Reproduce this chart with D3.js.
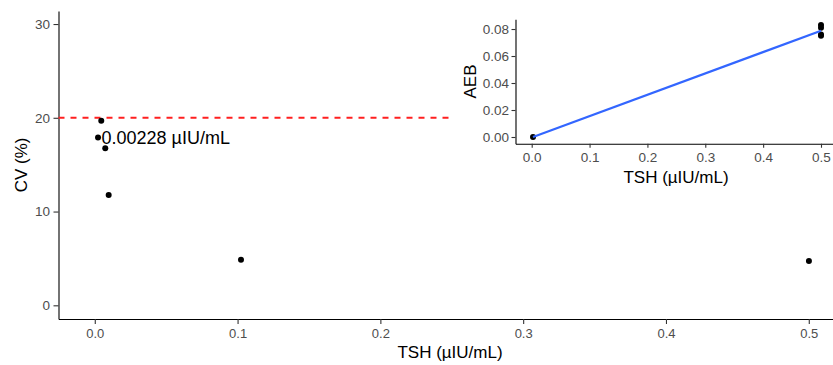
<!DOCTYPE html>
<html>
<head>
<meta charset="utf-8">
<script src="https://cdn.jsdelivr.net/npm/d3@7"></script>
<style>
  body { margin: 0; background: #fff; }
  svg { display: block; font-family: "Liberation Sans", Arial, sans-serif; }
  .axis .domain { stroke: #000; stroke-width: 1.1px; }
  .axis .tick line { stroke: #333; stroke-width: 1.1px; }
  .axis .tick text { fill: #4d4d4d; }
</style>
</head>
<body>
<div id="chart"></div>
<script>
// main panel: CV vs TSH
const mainTsh = [0.00455, 0.00228, 0.00735, 0.00973, 0.1024, 0.5001];
const mainCv = [19.69, 17.89, 16.74, 11.76, 4.86, 4.72];
const cvLimit = 20;
const cvLimitEnd = 0.25;
const lodTsh = 0.00228;
const lodCv = 17.89;
const lodLabel = "0.00228 µIU/mL";
const mainXTicks = [0, 0.1, 0.2, 0.3, 0.4, 0.5];
const mainYTicks = [0, 10, 20, 30];

// inset: AEB vs TSH
const insetTsh = [0.00228, 0.5, 0.5, 0.5, 0.5];
const insetAeb = [0, 0.083, 0.081, 0.076, 0.075];
const insetXTicks = [0, 0.1, 0.2, 0.3, 0.4, 0.5];
const insetYTicks = [0, 0.02, 0.04, 0.06, 0.08];

const W = 833, H = 365;

const svg = d3.select("#chart").append("svg")
  .attr("width", W)
  .attr("height", H);

// scales
const x = d3.scaleLinear().domain([-0.0254, 0.53]).range([58.5, 58.5 + 0.5554 * 1428]);
const y = d3.scaleLinear().domain([-1.46, 31.4]).range([319, 10.9]);

// axes
svg.append("g")
  .attr("class", "axis")
  .attr("transform", `translate(0,${y.range()[0]})`)
  .call(d3.axisBottom(x).tickValues(mainXTicks).tickFormat(d3.format(".1f"))
    .tickSizeInner(5).tickSizeOuter(0).tickPadding(4.5))
  .call(g => g.selectAll(".tick text").style("font-size", "13px"));

svg.append("g")
  .attr("class", "axis")
  .attr("transform", `translate(${x.range()[0]},0)`)
  .call(d3.axisLeft(y).tickValues(mainYTicks)
    .tickSizeInner(5).tickSizeOuter(0).tickPadding(3.5))
  .call(g => g.selectAll(".tick text").style("font-size", "13.5px"));

// 20% limit line
svg.append("line")
  .attr("x1", x.range()[0])
  .attr("x2", x(cvLimitEnd))
  .attr("y1", y(cvLimit))
  .attr("y2", y(cvLimit))
  .attr("stroke", "#ff2020")
  .attr("stroke-width", 2)
  .attr("stroke-dasharray", "6,6");

// points
svg.append("g")
  .selectAll("circle")
  .data(d3.range(mainTsh.length))
  .join("circle")
  .attr("cx", i => x(mainTsh[i]))
  .attr("cy", i => y(mainCv[i]))
  .attr("r", 3)
  .attr("fill", "#000");

svg.append("text")
  .attr("x", x(lodTsh) + 3.5)
  .attr("y", y(lodCv))
  .attr("dy", "0.36em")
  .style("font-size", "18px")
  .attr("fill", "#000")
  .text(lodLabel);

// axis titles
svg.append("text")
  .attr("x", 450)
  .attr("y", 358)
  .attr("text-anchor", "middle")
  .style("font-size", "17px")
  .text("TSH (µIU/mL)");

svg.append("text")
  .attr("transform", `translate(27,${(y.range()[0] + y.range()[1]) / 2}) rotate(-90)`)
  .attr("text-anchor", "middle")
  .style("font-size", "17px")
  .text("CV (%)");

// ---------- inset ----------
const ix = d3.scaleLinear().domain([-0.028, 0.5249]).range([531.7 - 0.028 * 578.6, 531.7 + 0.5249 * 578.6]);
const iy = d3.scaleLinear().domain([-0.005, 0.0872]).range([143.75, 19.3]);

const inset = svg.append("g");

inset.append("rect")
  .attr("x", 456)
  .attr("y", 0)
  .attr("width", W - 456)
  .attr("height", 195)
  .attr("fill", "#fff");

inset.append("g")
  .attr("class", "axis")
  .attr("transform", `translate(0,${iy.range()[0]})`)
  .call(d3.axisBottom(ix).tickValues(insetXTicks).tickFormat(d3.format(".1f"))
    .tickSizeInner(4).tickSizeOuter(0).tickPadding(5))
  .call(g => g.selectAll(".tick text").style("font-size", "13.5px"));

inset.append("g")
  .attr("class", "axis")
  .attr("transform", `translate(${ix.range()[0]},0)`)
  .call(d3.axisLeft(iy).tickValues(insetYTicks).tickFormat(d3.format(".2f"))
    .tickSizeInner(4).tickSizeOuter(0).tickPadding(2.5))
  .call(g => g.selectAll(".tick text").style("font-size", "13.5px"));

// least squares fit
const mx = d3.mean(insetTsh), my = d3.mean(insetAeb);
const slope = d3.sum(insetTsh, (v, i) => (v - mx) * (insetAeb[i] - my)) /
  d3.sum(insetTsh, v => (v - mx) ** 2);
const icpt = my - slope * mx;
const [fx0, fx1] = d3.extent(insetTsh);

inset.append("g")
  .selectAll("circle")
  .data(d3.range(insetTsh.length))
  .join("circle")
  .attr("cx", i => ix(insetTsh[i]))
  .attr("cy", i => iy(insetAeb[i]))
  .attr("r", 3)
  .attr("fill", "#000");

inset.append("line")
  .attr("x1", ix(fx0))
  .attr("y1", iy(icpt + slope * fx0))
  .attr("x2", ix(fx1))
  .attr("y2", iy(icpt + slope * fx1))
  .attr("stroke", "#3366ff")
  .attr("stroke-width", 2.2);

inset.append("text")
  .attr("x", 676)
  .attr("y", 182.5)
  .attr("text-anchor", "middle")
  .style("font-size", "17px")
  .text("TSH (µIU/mL)");

inset.append("text")
  .attr("transform", `translate(476,${(iy.range()[0] + iy.range()[1]) / 2}) rotate(-90)`)
  .attr("text-anchor", "middle")
  .style("font-size", "17px")
  .text("AEB");
</script>
</body>
</html>
